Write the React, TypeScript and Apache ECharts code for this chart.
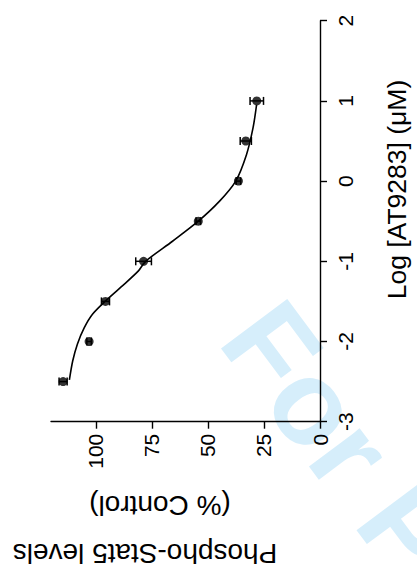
import React, { useEffect, useRef } from "react";
import * as echarts from "echarts";

// Measured data (log concentration of AT9283, % control, error)
const logConc = [-2.5, -2, -1.5, -1, -0.5, 0, 0.5, 1];
const phosphoStat5 = [114.6, 103, 95.7, 78.7, 54.3, 36.4, 33.1, 28.2];
const errorPct = [1.8, 1, 1.8, 3.5, 1, 1, 2.5, 3];

// Fitted curve
const fitLog = [-2.48, -2.24, -2.03, -1.83, -1.66, -1.5, -1.31, -1.12, -1.0, -0.75, -0.5, -0.25, 0, 0.33, 0.66, 0.95];
const fitValue = [111.8, 110.3, 108.2, 105.2, 101.5, 95.9, 88.3, 81.0, 77.8, 65.8, 54.3, 44.8, 37.6, 32.8, 29.9, 28.3];

const pctTicks = [0, 25, 50, 75, 100];

const xTitleLine1 = "Phospho-Stat5 levels";
const xTitleLine2 = "(% Control)";
const yTitle = "Log [AT9283] (μM)";
const watermark = "For Peer Review";

const FONT = "'Liberation Sans', Arial, Helvetica, sans-serif";

export default function App() {
  const ref = useRef<HTMLDivElement>(null);
  useEffect(() => {
    if (!ref.current) return;
    const chart = echarts.init(ref.current, null, { renderer: "svg" });
    const points = logConc.map((l, i) => [phosphoStat5[i], l]);
    const errs = logConc.map((l, i) => [phosphoStat5[i], l, errorPct[i]]);
    const fit = fitLog.map((l, i) => [fitValue[i], l]);
    chart.setOption({
      animation: false,
      backgroundColor: "#fff",
      grid: { left: 51, right: 97, top: 20.7, bottom: 157.3, containLabel: false },
      xAxis: {
        type: "value",
        min: 0,
        max: 120,
        inverse: true,
        position: "bottom",
        splitLine: { show: false },
        axisLine: { onZero: false, lineStyle: { color: "#000", width: 1.4 } },
        axisTick: { customValues: pctTicks, length: 7, lineStyle: { color: "#000", width: 1.4 } },
        axisLabel: {
          customValues: pctTicks,
          rotate: 90,
          margin: 12,
          color: "#000",
          fontSize: 21,
          fontFamily: FONT,
        },
      },
      yAxis: {
        type: "value",
        min: -3,
        max: 2,
        interval: 1,
        position: "right",
        splitLine: { show: false },
        axisLine: { onZero: false, lineStyle: { color: "#000", width: 1.4 } },
        axisTick: { length: 7, lineStyle: { color: "#000", width: 1.4 } },
        axisLabel: {
          rotate: 90,
          margin: 15,
          color: "#000",
          fontSize: 21,
          fontFamily: FONT,
        },
      },
      graphic: [
        {
          type: "text",
          z: -10,
          x: 250,
          y: 317,
          rotation: -0.93,
          silent: true,
          style: {
            text: watermark,
            fontSize: 120,
            fontWeight: "bold",
            fontFamily: FONT,
            fill: "#d6eefb",
            align: "left",
            verticalAlign: "middle",
          },
        },
        {
          type: "text",
          x: 397,
          y: 189.5,
          rotation: Math.PI / 2,
          style: {
            text: yTitle,
            fontSize: 26.5,
            fontFamily: FONT,
            fill: "#000",
            align: "center",
            verticalAlign: "middle",
          },
        },
        {
          type: "text",
          x: 160,
          y: 505,
          rotation: Math.PI,
          style: {
            text: xTitleLine2,
            fontSize: 28,
            fontFamily: FONT,
            fill: "#000",
            align: "center",
            verticalAlign: "middle",
          },
        },
        {
          type: "text",
          x: 145,
          y: 553,
          rotation: Math.PI,
          style: {
            text: xTitleLine1,
            fontSize: 28,
            fontFamily: FONT,
            fill: "#000",
            align: "center",
            verticalAlign: "middle",
          },
        },
      ],
      series: [
        {
          type: "line",
          data: fit,
          smooth: 0.3,
          showSymbol: false,
          lineStyle: { color: "#000", width: 1.6 },
          z: 2,
        },
        {
          type: "custom",
          data: errs,
          z: 3,
          renderItem: (params: any, api: any) => {
            const v = api.value(0);
            const l = api.value(1);
            const e = api.value(2);
            const p1 = api.coord([v - e, l]);
            const p2 = api.coord([v + e, l]);
            const h = 4;
            const st = { stroke: "#000", lineWidth: 1.5 };
            return {
              type: "group",
              children: [
                { type: "line", shape: { x1: p1[0], y1: p1[1], x2: p2[0], y2: p2[1] }, style: st },
                { type: "line", shape: { x1: p1[0], y1: p1[1] - h, x2: p1[0], y2: p1[1] + h }, style: st },
                { type: "line", shape: { x1: p2[0], y1: p2[1] - h, x2: p2[0], y2: p2[1] + h }, style: st },
              ],
            };
          },
        },
        {
          type: "scatter",
          data: points,
          symbol: "circle",
          symbolSize: 9,
          itemStyle: { color: "#000" },
          z: 4,
        },
      ],
    });
    return () => chart.dispose();
  }, []);
  return (
    <div
      ref={ref}
      style={{ position: "fixed", left: 0, top: 0, width: 417, height: 579 }}
    />
  );
}
